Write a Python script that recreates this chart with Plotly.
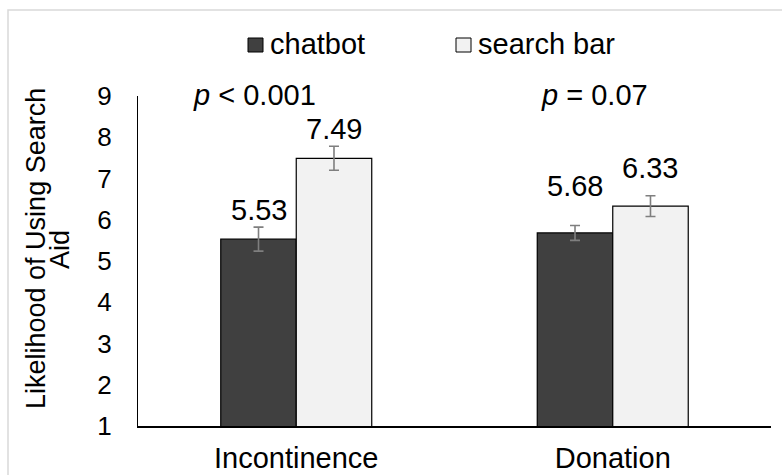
import plotly.graph_objects as go

# ---- data ----
categories = ["Incontinence", "Donation"]
series_names = ["chatbot", "search bar"]
chatbot_vals = [5.53, 5.68]
chatbot_err = [0.29, 0.18]
search_vals = [7.49, 6.33]
search_err = [0.29, 0.25]
p_labels = ["<i>p</i> &lt; 0.001", "<i>p</i> = 0.07"]
y_ticks = [1, 2, 3, 4, 5, 6, 7, 8, 9]
y_title_lines = ["Likelihood of Using Search", "Aid"]

# ---- layout geometry (pixels) ----
W, H = 782, 475
L, R, T, B = 138, 11, 96, 49
PW, PH = W - L - R, H - T - B
FONT = "Arial, 'Liberation Sans', sans-serif"
DARK, LIGHT = "#404040", "#f2f2f2"


def px(x):
    return (x - L) / PW


def py(y):
    return (H - B - y) / PH


fig = go.Figure()
for name, vals, errs, col in [
    (series_names[0], chatbot_vals, chatbot_err, DARK),
    (series_names[1], search_vals, search_err, LIGHT),
]:
    fig.add_trace(go.Bar(
        x=categories, y=vals, name=name, base=0,
        marker=dict(color=col, line=dict(color="#000000", width=1.2)),
        error_y=dict(type="data", array=errs, visible=True,
                     color="#7f7f7f", thickness=1.6, width=5),
        showlegend=False,
    ))

annotations = []
# data labels
label_shift = {0: [29, 47], 1: [29, 38]}
for si, vals in enumerate([chatbot_vals, search_vals]):
    for ci, v in enumerate(vals):
        annotations.append(dict(
            x=categories[ci], y=v, xref="x", yref="y",
            text=f"{v:.2f}", showarrow=False,
            xshift=(-37.7 if si == 0 else 37.7), yshift=label_shift[si][ci],
            font=dict(size=29, color="#000000", family=FONT),
            xanchor="center", yanchor="middle",
        ))

# p-values
p_pos = [191, 539]
for ci, txt in enumerate(p_labels):
    annotations.append(dict(
        x=px(p_pos[ci]), y=py(95), xref="paper", yref="paper",
        text=txt, showarrow=False, xanchor="left", yanchor="middle",
        font=dict(size=29, color="#000000", family=FONT),
    ))

# y title (two lines)
annotations.append(dict(
    x=px(36), y=py(249), xref="paper", yref="paper", text=y_title_lines[0],
    textangle=-90, showarrow=False, xanchor="center", yanchor="middle",
    font=dict(size=27, color="#000000", family=FONT),
))
annotations.append(dict(
    x=px(60), y=py(250), xref="paper", yref="paper", text=y_title_lines[1],
    textangle=-90, showarrow=False, xanchor="center", yanchor="middle",
    font=dict(size=27, color="#000000", family=FONT),
))

# custom legend
shapes = []
leg = [(248, 270, DARK), (456, 478, LIGHT)]
for (sx, tx, col), nm in zip(leg, series_names):
    shapes.append(dict(type="rect", xref="paper", yref="paper",
                       x0=px(sx), x1=px(sx + 15), y0=py(52), y1=py(38),
                       fillcolor=col, line=dict(color="#000000", width=1)))
    annotations.append(dict(
        x=px(tx - 2), y=py(44), xref="paper", yref="paper", text=nm,
        showarrow=False, xanchor="left", yanchor="middle",
        font=dict(size=29, color="#000000", family=FONT),
    ))

# outer chart border
shapes.append(dict(type="rect", xref="paper", yref="paper",
                   x0=px(8), x1=px(800), y0=py(500), y1=py(10),
                   line=dict(color="#d9d9d9", width=1.5), fillcolor="rgba(0,0,0,0)",
                   layer="below"))

fig.update_layout(
    width=W, height=H,
    margin=dict(l=L, r=R, t=T, b=B, pad=0),
    paper_bgcolor="#ffffff", plot_bgcolor="#ffffff",
    barmode="group", bargap=0.523, bargroupgap=0,
    font=dict(family=FONT, color="#000000"),
    annotations=annotations, shapes=shapes,
    xaxis=dict(showline=True, linecolor="#000000", linewidth=1.5,
               ticks="", showgrid=False, zeroline=False, automargin=False,
               tickfont=dict(size=29, color="#000000"),
               ticklabelstandoff=5),
    yaxis=dict(range=[1, 9], tickvals=y_ticks, showline=True,
               linecolor="#000000", linewidth=1.2, ticks="", automargin=False,
               showgrid=False, zeroline=False,
               tickfont=dict(size=26, color="#000000"),
               ticklabelstandoff=20),
)

fig.write_html("out.html")
